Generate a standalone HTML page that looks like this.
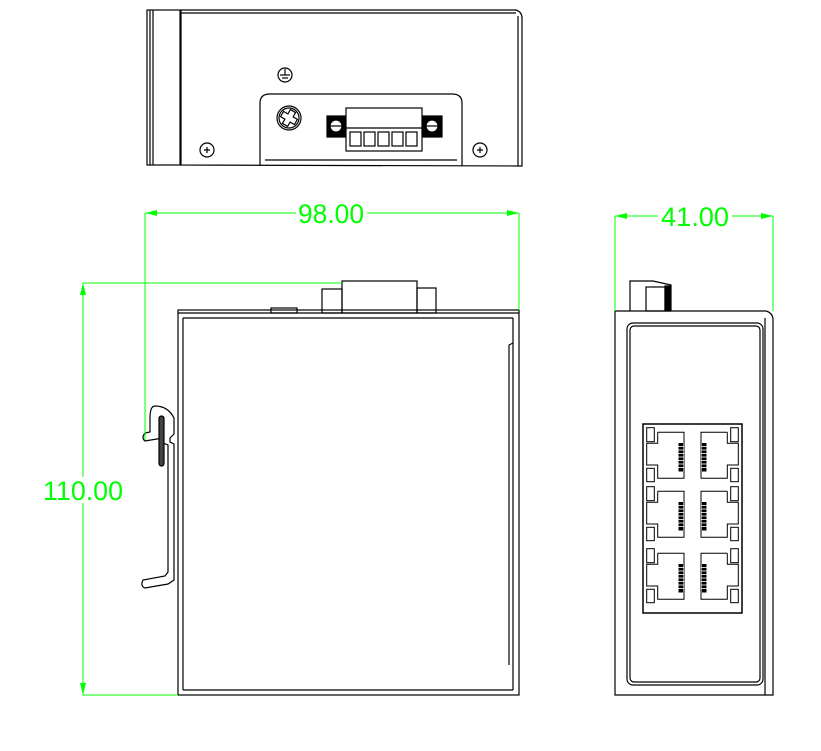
<!DOCTYPE html>
<html><head><style>body{margin:0;background:#fff}svg{display:block}</style></head><body>
<svg width="821" height="751" viewBox="0 0 821 751" xmlns="http://www.w3.org/2000/svg" font-family="Liberation Sans, sans-serif">
<defs>
<g id="port" fill="none" stroke="#000" stroke-width="1">
<polyline points="657.7,432.3 684,432.3 684,478.3 657.7,478.3 657.7,465 646.7,465 646.7,443.3 657.7,443.3 657.7,432.3"/>
<rect x="646.7" y="427.7" width="7.6" height="14"/>
<rect x="646.7" y="468.3" width="7.6" height="13.4"/>
<rect x="678.5" y="443" width="4.5" height="28.5" fill="#000" stroke="none"/>
<g stroke="#fff" stroke-width="0.8"><line x1="678" y1="446.5" x2="684" y2="446.5"/><line x1="678" y1="450" x2="684" y2="450"/><line x1="678" y1="453.5" x2="684" y2="453.5"/><line x1="678" y1="457" x2="684" y2="457"/><line x1="678" y1="460.5" x2="684" y2="460.5"/><line x1="678" y1="464" x2="684" y2="464"/><line x1="678" y1="467.5" x2="684" y2="467.5"/></g>
</g>
</defs>
<g fill="none" stroke="#000" stroke-width="1.2">
<rect x="147" y="10" width="33" height="155"/>
<line x1="150" y1="10" x2="150" y2="165"/><line x1="153" y1="10" x2="153" y2="165"/>
<path d="M181,165 L181,10 L516,10 Q522,12 522,18 L522,166 Z"/>
<line x1="181" y1="13" x2="516" y2="13"/>
<line x1="518" y1="16" x2="518" y2="166"/>
<path d="M260,166 L260,103 Q260,94 270,94 L452,94 Q462,94 462,103 L462,166"/>
<line x1="265" y1="160" x2="457" y2="160"/>
<circle cx="285" cy="75" r="7"/>
<line x1="285" y1="69" x2="285" y2="75"/><line x1="280" y1="75" x2="290" y2="75"/><line x1="282" y1="78" x2="288" y2="78"/>
<circle cx="289" cy="118" r="12"/><circle cx="289" cy="118" r="10"/>
<path d="M286,110 h6 v5 h5 v6 h-5 v5 h-6 v-5 h-5 v-6 h5 z" transform="rotate(30 289 118)"/>
<circle cx="207" cy="150" r="7"/><path d="M204,150h6M207,147v6"/>
<circle cx="480" cy="150" r="7"/><path d="M477,150h6M480,147v6"/>
<rect x="327" y="116" width="19" height="21" fill="#000"/>
<rect x="422" y="116" width="20" height="21" fill="#000"/>
<circle cx="336" cy="126" r="6" fill="#fff"/><line x1="330" y1="126" x2="342" y2="126"/>
<circle cx="432" cy="126" r="6" fill="#fff"/><line x1="426" y1="126" x2="438" y2="126"/>
<rect x="346" y="108" width="76" height="43" fill="#fff"/>
<line x1="346" y1="128" x2="422" y2="128"/>
<rect x="350" y="132" width="11" height="14"/><rect x="364" y="132" width="11" height="14"/><rect x="378" y="132" width="11" height="14"/><rect x="392" y="132" width="11" height="14"/><rect x="406" y="132" width="11" height="14"/>
<rect x="178" y="310" width="341" height="385"/>
<line x1="178" y1="313" x2="519" y2="313"/>
<line x1="183" y1="318" x2="513" y2="318"/>
<line x1="183" y1="318" x2="183" y2="690"/>
<line x1="513" y1="318" x2="513" y2="690"/>
<line x1="183" y1="690" x2="513" y2="690"/>
<path d="M509,345 L509,665 M509,345 L513,343"/>
<rect x="322" y="289" width="20" height="24"/>
<rect x="342" y="281" width="75" height="32"/>
<rect x="417" y="288" width="19" height="25"/>
<rect x="271" y="308" width="26" height="5"/>
<path d="M155,406 Q168,406 174,418 L174,434 L170,438 L170,442 L174,444 L174,580 L168,584 L145,588 Q140,586 143,580 L165,576 L168,572 L168,445 L163,443 L163,438 L145,441 Q141,438 145,433 L150,432 L150,418 Q150,406 155,406 Z"/>
<rect x="159" y="416" width="5" height="50" rx="2.5" fill="#444"/>
<path d="M615,695 L615,311 L766,311 Q773,313 773,320 L773,695 Z"/>
<line x1="765" y1="318" x2="765" y2="695"/>
<rect x="627" y="323" width="136" height="362" rx="6"/>
<rect x="630" y="326" width="130" height="356" rx="4"/>
<path d="M630,311 L630,281 L653,281 L671,285 L671,311"/>
<rect x="646" y="287" width="19" height="24"/>
<rect x="665" y="286" width="5" height="25" fill="#000"/>
<rect x="643" y="424" width="99" height="189" stroke-width="1.5"/>
</g>
<use href="#port"/><use href="#port" transform="translate(0,59)"/><use href="#port" transform="translate(0,121)"/>
<g transform="translate(1385,0) scale(-1,1)"><use href="#port"/><use href="#port" transform="translate(0,59)"/><use href="#port" transform="translate(0,121)"/></g>
<g stroke="#00ff00" stroke-width="1" fill="none">
<line x1="145" y1="213" x2="145" y2="440"/><line x1="519" y1="213" x2="519" y2="310"/>
<line x1="145" y1="213" x2="296" y2="213"/><line x1="367" y1="213" x2="519" y2="213"/>
<line x1="83" y1="283" x2="342" y2="283"/><line x1="83" y1="695" x2="178" y2="695"/>
<line x1="83" y1="283" x2="83" y2="477"/><line x1="83" y1="503" x2="83" y2="695"/>
<line x1="615" y1="216" x2="615" y2="311"/><line x1="773" y1="216" x2="773" y2="311"/>
<line x1="615" y1="216" x2="658" y2="216"/><line x1="732" y1="216" x2="773" y2="216"/>
</g>
<g fill="#00ff00" font-size="27">
<polygon points="145,213 157,210 157,216"/><polygon points="519,213 507,210 507,216"/>
<polygon points="83,283 80,295 86,295"/><polygon points="83,695 80,683 86,683"/>
<polygon points="615,216 627,213 627,219"/><polygon points="773,216 761,213 761,219"/>
<text x="331" y="223" text-anchor="middle" textLength="66" lengthAdjust="spacingAndGlyphs">98.00</text>
<text x="83" y="500" text-anchor="middle" textLength="80" lengthAdjust="spacingAndGlyphs">110.00</text>
<text x="695" y="226" text-anchor="middle" textLength="68" lengthAdjust="spacingAndGlyphs">41.00</text>
</g>
</svg>
</body></html>
